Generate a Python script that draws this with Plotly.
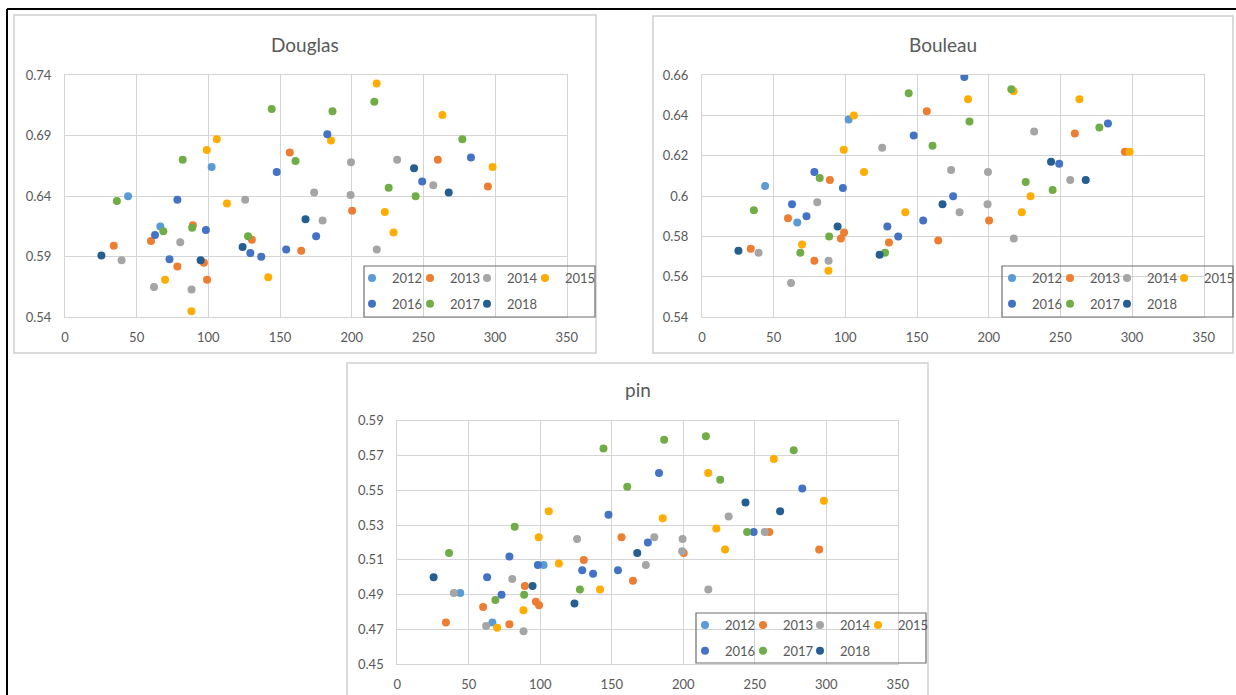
import plotly.graph_objects as go

# ---------------- data ----------------
years = ["2012", "2013", "2014", "2015", "2016", "2017", "2018"]
colors = ["#5B9BD5", "#ED7D31", "#A5A5A5", "#FFAD00", "#4472C4", "#70AD47", "#255E91"]

x_2012 = [44, 66.5, 102.3]
douglas_2012 = [0.640, 0.615, 0.664]
bouleau_2012 = [0.605, 0.587, 0.638]
pin_2012 = [0.491, 0.474, 0.507]

x_2013 = [34, 60, 78.4, 89.2, 96.9, 99.1, 130.4, 156.8, 164.8, 200.3, 260.1, 295]
douglas_2013 = [0.599, 0.603, 0.582, 0.616, 0.585, 0.571, 0.604, 0.676, 0.595, 0.628, 0.670, 0.648]
bouleau_2013 = [0.574, 0.589, 0.568, 0.608, 0.579, 0.582, 0.577, 0.642, 0.578, 0.588, 0.631, 0.622]
pin_2013 = [0.474, 0.483, 0.473, 0.495, 0.486, 0.484, 0.510, 0.523, 0.498, 0.514, 0.526, 0.516]

x_2014 = [39.5, 62.1, 80.4, 88.3, 125.7, 173.8, 179.7, 199.5, 199.2, 217.5, 231.7, 256.9]
douglas_2014 = [0.587, 0.565, 0.602, 0.563, 0.637, 0.643, 0.620, 0.668, 0.641, 0.596, 0.670, 0.649]
bouleau_2014 = [0.572, 0.557, 0.597, 0.568, 0.624, 0.613, 0.592, 0.612, 0.596, 0.579, 0.632, 0.608]
pin_2014 = [0.491, 0.472, 0.499, 0.469, 0.522, 0.507, 0.523, 0.522, 0.515, 0.493, 0.535, 0.526]

x_2015 = [69.8, 88.2, 98.9, 105.9, 113, 141.8, 185.6, 217.4, 223.1, 229.2, 263.3, 298.3]
douglas_2015 = [0.571, 0.545, 0.678, 0.687, 0.634, 0.573, 0.686, 0.733, 0.627, 0.610, 0.707, 0.664]
bouleau_2015 = [0.576, 0.563, 0.623, 0.640, 0.612, 0.592, 0.648, 0.652, 0.592, 0.600, 0.648, 0.622]
pin_2015 = [0.471, 0.481, 0.523, 0.538, 0.508, 0.493, 0.534, 0.560, 0.528, 0.516, 0.568, 0.544]

x_2016 = [62.8, 72.9, 78.4, 98.3, 129.3, 136.9, 147.7, 154.3, 175.2, 183, 249.2, 283.2]
douglas_2016 = [0.608, 0.588, 0.637, 0.612, 0.593, 0.590, 0.660, 0.596, 0.607, 0.691, 0.652, 0.672]
bouleau_2016 = [0.596, 0.590, 0.612, 0.604, 0.585, 0.580, 0.630, 0.588, 0.600, 0.659, 0.616, 0.636]
pin_2016 = [0.500, 0.490, 0.512, 0.507, 0.504, 0.502, 0.536, 0.504, 0.520, 0.560, 0.526, 0.551]

x_2017 = [36.2, 68.6, 82.1, 88.7, 127.7, 144.2, 160.8, 186.6, 215.8, 225.8, 244.6, 277.2]
douglas_2017 = [0.636, 0.611, 0.670, 0.614, 0.607, 0.712, 0.669, 0.710, 0.718, 0.647, 0.640, 0.687]
bouleau_2017 = [0.593, 0.572, 0.609, 0.580, 0.572, 0.651, 0.625, 0.637, 0.653, 0.607, 0.603, 0.634]
pin_2017 = [0.514, 0.487, 0.529, 0.490, 0.493, 0.574, 0.552, 0.579, 0.581, 0.556, 0.526, 0.573]

x_2018 = [25.4, 94.6, 123.9, 167.8, 243.5, 267.7]
douglas_2018 = [0.591, 0.587, 0.598, 0.621, 0.663, 0.643]
bouleau_2018 = [0.573, 0.585, 0.571, 0.596, 0.617, 0.608]
pin_2018 = [0.500, 0.495, 0.485, 0.514, 0.543, 0.538]

x_tickvals = [0, 50, 100, 150, 200, 250, 300, 350]
x_ticklabels = ["0", "50", "100", "150", "200", "250", "300", "350"]
douglas_tickvals = [0.54, 0.59, 0.64, 0.69, 0.74]
douglas_ticklabels = ["0.54", "0.59", "0.64", "0.69", "0.74"]
bouleau_tickvals = [0.54, 0.56, 0.58, 0.60, 0.62, 0.64, 0.66]
bouleau_ticklabels = ["0.54", "0.56", "0.58", "0.6", "0.62", "0.64", "0.66"]
pin_tickvals = [0.45, 0.47, 0.49, 0.51, 0.53, 0.55, 0.57, 0.59]
pin_ticklabels = ["0.45", "0.47", "0.49", "0.51", "0.53", "0.55", "0.57", "0.59"]

titles = ["Douglas", "Bouleau", "pin"]

xs = [x_2012, x_2013, x_2014, x_2015, x_2016, x_2017, x_2018]
ys_douglas = [douglas_2012, douglas_2013, douglas_2014, douglas_2015, douglas_2016, douglas_2017, douglas_2018]
ys_bouleau = [bouleau_2012, bouleau_2013, bouleau_2014, bouleau_2015, bouleau_2016, bouleau_2017, bouleau_2018]
ys_pin = [pin_2012, pin_2013, pin_2014, pin_2015, pin_2016, pin_2017, pin_2018]

# ---------------- figure ----------------
W, H = 1236, 695
FONT = "Lato"
TXT = "#595959"
GRID = "#D4D4D4"

def px_x(p):
    return p / W

def px_y(p):
    return 1 - p / H

fig = go.Figure()

# legend layout: 4 columns (2012/2016, 2013/2017, 2014/2018, 2015), 2 rows
col_of = [0, 1, 2, 3, 0, 1, 2]

panels = [("x", "y", ys_douglas), ("x2", "y2", ys_bouleau), ("x3", "y3", ys_pin)]

def legend_name(panel, col):
    n = panel * 4 + col + 1
    return "legend" if n == 1 else f"legend{n}"

for pi, (xa, ya, ys) in enumerate(panels):
    for i, yr in enumerate(years):
        fig.add_trace(go.Scatter(
            x=xs[i], y=ys[i], mode="markers", name=yr,
            xaxis=xa, yaxis=ya, legend=legend_name(pi, col_of[i]),
            legendgroup=f"p{pi}y{yr}",
            marker=dict(color=colors[i], size=8, line=dict(width=0)),
            hoverinfo="x+y+name",
        ))

def xaxis(domain, anchor):
    return dict(domain=domain, anchor=anchor, range=[0, 350],
                tickvals=x_tickvals, ticktext=x_ticklabels,
                showgrid=True, gridcolor=GRID, gridwidth=1,
                showline=True, linecolor=GRID, linewidth=1, mirror=True,
                zeroline=False, ticks="", ticklabelstandoff=8,
                tickfont=dict(family=FONT, size=13, color=TXT))

def yaxis(domain, anchor, rng, tv, tt):
    return dict(domain=domain, anchor=anchor, range=rng,
                tickvals=tv, ticktext=tt,
                showgrid=True, gridcolor=GRID, gridwidth=1,
                showline=True, linecolor=GRID, linewidth=1, mirror=True,
                zeroline=False, ticks="", ticklabelstandoff=10,
                tickfont=dict(family=FONT, size=13, color=TXT))

# plot areas in pixels
dg_x = [px_x(65), px_x(566.7)]
bo_x = [px_x(702), px_x(1203.7)]
pi_x = [px_x(397.3), px_x(897.8)]
top_y = [px_y(317.3), px_y(75)]
pin_y = [px_y(664.3), px_y(420.7)]

# legend column marker centres (px) and first-row centre (px)
legend_cols = [
    ([372, 430, 487, 545], 278),
    ([1012, 1070, 1127, 1184], 278),
    ([705, 763, 820, 878], 625),
]
legends = {}
for pi, (cols, row_y) in enumerate(legend_cols):
    for ci, mx in enumerate(cols):
        legends[legend_name(pi, ci)] = dict(
            x=px_x(mx - 20), y=px_y(row_y - 15), xanchor="left", yanchor="top",
            orientation="v", traceorder="grouped", tracegroupgap=6,
            borderwidth=0, bgcolor="rgba(0,0,0,0)",
            font=dict(family=FONT, size=13, color=TXT))

box_line = dict(color="#CFCFCF", width=1.5)
leg_line = dict(color="#6E6E6E", width=1.2)
shapes = [
    dict(type="rect", xref="paper", yref="paper", x0=px_x(14), x1=px_x(596), y0=px_y(353), y1=px_y(15), line=box_line, layer="below"),
    dict(type="rect", xref="paper", yref="paper", x0=px_x(653), x1=px_x(1233), y0=px_y(353), y1=px_y(16), line=box_line, layer="below"),
    dict(type="rect", xref="paper", yref="paper", x0=px_x(347), x1=px_x(928), y0=px_y(705), y1=px_y(363), line=box_line, layer="below"),
    dict(type="rect", xref="paper", yref="paper", x0=px_x(364), x1=px_x(595), y0=px_y(317), y1=px_y(266), line=leg_line),
    dict(type="rect", xref="paper", yref="paper", x0=px_x(1002), x1=px_x(1233), y0=px_y(317), y1=px_y(266), line=leg_line),
    dict(type="rect", xref="paper", yref="paper", x0=px_x(696), x1=px_x(926), y0=px_y(663), y1=px_y(613), line=leg_line),
    dict(type="line", xref="paper", yref="paper", x0=px_x(7), x1=px_x(1245), y0=px_y(9), y1=px_y(9), line=dict(color="#000000", width=2)),
    dict(type="line", xref="paper", yref="paper", x0=px_x(7), x1=px_x(7), y0=px_y(9), y1=px_y(710), line=dict(color="#000000", width=2)),
]

title_pos = [(305, 44), (943, 44), (637.5, 389)]
annotations = [
    dict(text=t, x=px_x(tx), y=px_y(ty), xref="paper", yref="paper",
         xanchor="center", yanchor="middle", showarrow=False,
         font=dict(family=FONT, size=19, color=TXT))
    for t, (tx, ty) in zip(titles, title_pos)
]

fig.update_layout(
    width=W, height=H, autosize=False,
    margin=dict(l=0, r=0, t=0, b=0, pad=0, autoexpand=False),
    paper_bgcolor="white", plot_bgcolor="white",
    xaxis=xaxis(dg_x, "y"),
    yaxis=yaxis(top_y, "x", [0.54, 0.74], douglas_tickvals, douglas_ticklabels),
    xaxis2=xaxis(bo_x, "y2"),
    yaxis2=yaxis(top_y, "x2", [0.54, 0.66], bouleau_tickvals, bouleau_ticklabels),
    xaxis3=xaxis(pi_x, "y3"),
    yaxis3=yaxis(pin_y, "x3", [0.45, 0.59], pin_tickvals, pin_ticklabels),
    shapes=shapes,
    annotations=annotations,
    showlegend=True,
    **legends,
)

fig.write_html("out.html", config={"displayModeBar": False},
               post_script="document.body.style.margin='0px';")
